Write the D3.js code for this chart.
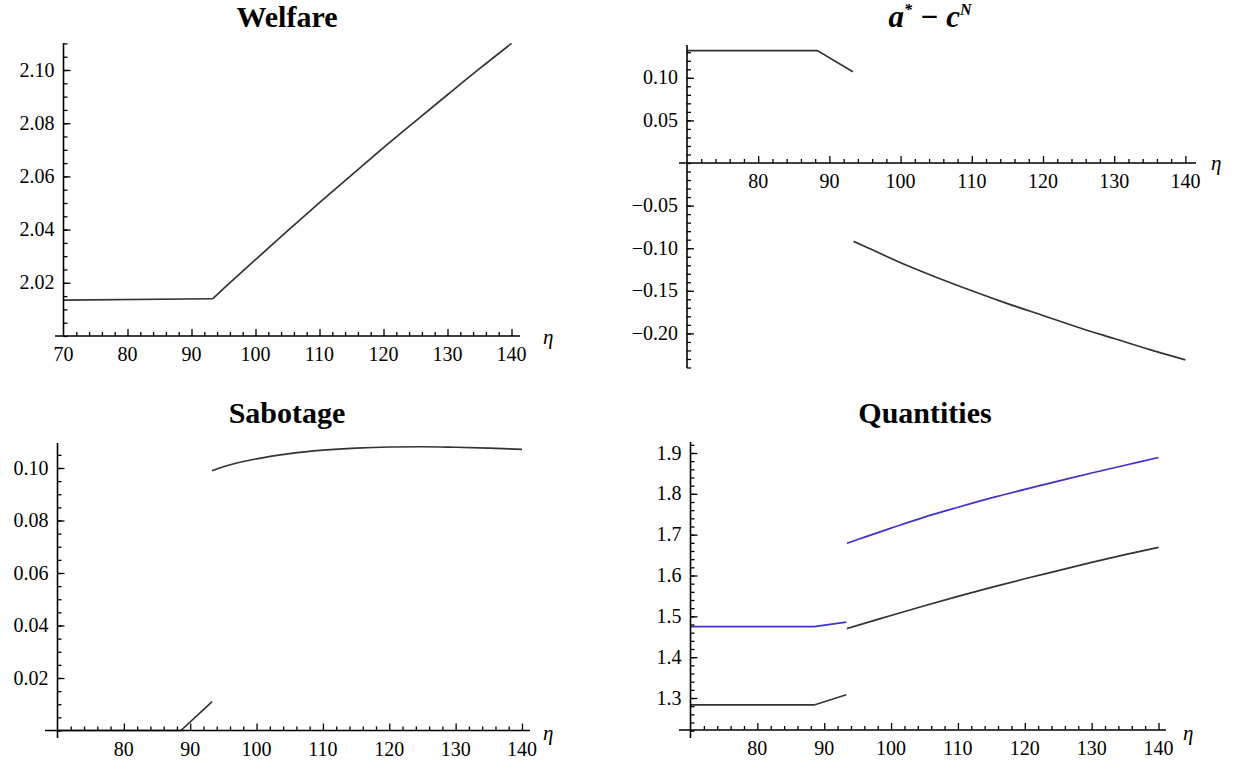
<!DOCTYPE html>
<html>
<head>
<meta charset="utf-8">
<script src="https://cdn.jsdelivr.net/npm/d3@7"></script>
<style>
  body { margin: 0; background: #fff; }
  text { font-family: "Liberation Serif", "Times New Roman", serif; }
</style>
</head>
<body>
<div id="chart"></div>
<script>
const width = 1233;
const height = 765;

// Welfare
const welfareEtaFlat = [70, 93.3];
const welfareFlat = [2.0135, 2.014];
const welfareEta = [93.3, 95, 100, 105, 110, 115, 120, 125, 130, 135, 140];
const welfareVal = [2.014, 2.0178, 2.0287, 2.0395, 2.0501, 2.0605, 2.0708, 2.0808, 2.0907, 2.1005, 2.110];

// a* - c^N
const gapEtaLow = [70, 88.3, 93.3];
const gapLow = [0.132, 0.132, 0.107];
const gapEtaHigh = [93.4, 95, 100, 105, 110, 115, 120, 125, 130, 135, 140];
const gapHigh = [-0.092, -0.098, -0.117, -0.134, -0.150, -0.165, -0.179, -0.193, -0.206, -0.219, -0.231];

// Sabotage
const sabEtaLow = [70, 88.6, 93.3];
const sabLow = [0, 0, 0.011];
const sabEtaHigh = [93.3, 95, 100, 105, 110, 115, 120, 125, 130, 135, 140];
const sabHigh = [0.099, 0.1005, 0.1035, 0.1055, 0.1068, 0.1076, 0.108, 0.1081, 0.1079, 0.1076, 0.1071];

// Quantities
const qEtaLow = [70, 88.5, 93.3];
const qBlueLow = [1.475, 1.475, 1.486];
const qBlackLow = [1.283, 1.283, 1.308];
const qEtaHigh = [93.4, 95, 100, 105, 110, 115, 120, 125, 130, 135, 140];
const qBlueHigh = [1.679, 1.688, 1.716, 1.743, 1.767, 1.79, 1.811, 1.831, 1.851, 1.87, 1.889];
const qBlackHigh = [1.47, 1.478, 1.502, 1.526, 1.549, 1.571, 1.592, 1.612, 1.632, 1.651, 1.669];

// tick values
const etaTicks = [70, 80, 90, 100, 110, 120, 130, 140];
const welfareTicks = [2.02, 2.04, 2.06, 2.08, 2.10];
const gapTicks = [-0.20, -0.15, -0.10, -0.05, 0.05, 0.10];
const sabTicks = [0.02, 0.04, 0.06, 0.08, 0.10];
const qTicks = [1.3, 1.4, 1.5, 1.6, 1.7, 1.8, 1.9];

const dark = "#333";
const blue = "#3f33c9";

const svg = d3.select("#chart").append("svg")
    .attr("width", width)
    .attr("height", height)
    .style("background", "#fff");

const zip = (xs, ys) => xs.map((x, i) => [x, ys[i]]);

const panels = [
    {
        x: d3.scaleLinear([70, 140], [63.5, 511.5]),
        y: d3.scaleLinear([2.0, 2.10], [336, 70]),
        axisY: 336, xAxisExt: [55, 520], yAxisExt: [336, 43],
        xLabels: etaTicks, yLabels: welfareTicks, fmt: d3.format(".2f"),
        yMinor: d3.range(2.0, 2.1105, 0.005),
        title: "Welfare", titlePos: [287, 27], etaPos: [543, 344],
        series: [
            { d: zip(welfareEtaFlat, welfareFlat), c: dark },
            { d: zip(welfareEta, welfareVal), c: dark, smooth: true }
        ]
    },
    {
        x: d3.scaleLinear([70, 140], [687, 1185.4]),
        y: d3.scaleLinear([0, 0.10], [163, 77.8]),
        axisY: 163, xAxisExt: [679, 1196], yAxisExt: [368, 45],
        xLabels: etaTicks.slice(1), yLabels: gapTicks, fmt: d => d3.format(".2f")(d).replace("-", "\u2212"),
        yMinor: d3.range(-0.24, 0.1385, 0.01),
        title: null, titlePos: [930, 27], etaPos: [1211, 170],
        series: [
            { d: zip(gapEtaLow, gapLow), c: dark },
            { d: zip(gapEtaHigh, gapHigh), c: dark, smooth: true }
        ]
    },
    {
        x: d3.scaleLinear([70, 140], [57.5, 522]),
        y: d3.scaleLinear([0, 0.10], [730.5, 468]),
        axisY: 730.5, xAxisExt: [45, 530], yAxisExt: [738, 443],
        xLabels: etaTicks.slice(1), yLabels: sabTicks, fmt: d3.format(".2f"),
        yMinor: d3.range(0, 0.1095, 0.005),
        title: "Sabotage", titlePos: [287, 423], etaPos: [543, 740],
        series: [
            { d: zip(sabEtaLow, sabLow), c: dark },
            { d: zip(sabEtaHigh, sabHigh), c: dark, smooth: true }
        ]
    },
    {
        x: d3.scaleLinear([70, 140], [690.5, 1158.5]),
        y: d3.scaleLinear([1.3, 1.9], [698, 453]),
        axisY: 730, xAxisExt: [679, 1166], yAxisExt: [738, 442],
        xLabels: etaTicks.slice(1), yLabels: qTicks, fmt: d3.format(".1f"),
        yMinor: d3.range(1.22, 1.925, 0.02),
        title: "Quantities", titlePos: [925, 423], etaPos: [1183, 740],
        series: [
            { d: zip(qEtaLow, qBlueLow), c: blue },
            { d: zip(qEtaHigh, qBlueHigh), c: blue, smooth: true },
            { d: zip(qEtaLow, qBlackLow), c: dark },
            { d: zip(qEtaHigh, qBlackHigh), c: dark, smooth: true }
        ]
    }
];

panels.forEach(p => {
    const g = svg.append("g");
    const x0 = p.x(70);

    // series
    p.series.forEach(s => {
        const line = d3.line()
            .x(d => p.x(d[0]))
            .y(d => p.y(d[1]))
            .curve(s.smooth ? d3.curveMonotoneX : d3.curveLinear);
        g.append("path").attr("d", line(s.d))
            .attr("fill", "none").attr("stroke", s.c).attr("stroke-width", 1.7);
    });

    // axis lines
    g.append("line").attr("x1", p.xAxisExt[0]).attr("x2", p.xAxisExt[1])
        .attr("y1", p.axisY).attr("y2", p.axisY).attr("stroke", "#000").attr("stroke-width", 1.6);
    g.append("line").attr("x1", x0).attr("x2", x0)
        .attr("y1", p.yAxisExt[0]).attr("y2", p.yAxisExt[1]).attr("stroke", "#000").attr("stroke-width", 1.6);

    // x ticks (pointing up)
    const xMinor = d3.range(70, 140.5, 2).filter(v => v % 10 !== 0);
    const xg = g.append("g").attr("transform", `translate(0,${p.axisY})`);
    xg.call(d3.axisBottom(p.x).tickValues(xMinor).tickSize(-4).tickFormat(""));
    xg.call(g2 => g2.select(".domain").remove());
    const xg2 = g.append("g").attr("transform", `translate(0,${p.axisY})`);
    xg2.call(d3.axisBottom(p.x).tickValues(etaTicks.slice(1)).tickSize(-7).tickFormat(""));
    xg2.call(g2 => g2.select(".domain").remove());
    g.append("g").selectAll("text").data(p.xLabels).join("text")
        .attr("x", d => p.x(d)).attr("y", p.axisY + 25)
        .attr("text-anchor", "middle").attr("font-size", 20).text(d => d);

    // y ticks (pointing right)
    const yg = g.append("g").attr("transform", `translate(${x0},0)`);
    yg.call(d3.axisLeft(p.y).tickValues(p.yMinor).tickSize(-4).tickFormat(""));
    yg.call(g2 => g2.select(".domain").remove());
    const yg2 = g.append("g").attr("transform", `translate(${x0},0)`);
    yg2.call(d3.axisLeft(p.y).tickValues(p.yLabels).tickSize(-7).tickFormat(""));
    yg2.call(g2 => g2.select(".domain").remove());
    g.append("g").selectAll("text").data(p.yLabels).join("text")
        .attr("x", x0 - 9).attr("y", d => p.y(d) + 6.5)
        .attr("text-anchor", "end").attr("font-size", 20).text(d => p.fmt(d));

    g.selectAll(".tick line").attr("stroke", "#000").attr("stroke-width", 1.3);

    // eta label
    g.append("text").attr("x", p.etaPos[0]).attr("y", p.etaPos[1])
        .attr("font-size", 21).attr("font-style", "italic").text("\u03b7");

    // title
    if (p.title) {
        g.append("text").attr("x", p.titlePos[0]).attr("y", p.titlePos[1])
            .attr("text-anchor", "middle").attr("font-size", 30).attr("font-weight", "bold")
            .text(p.title);
    } else {
        const t = g.append("text").attr("x", p.titlePos[0]).attr("y", p.titlePos[1])
            .attr("text-anchor", "middle").attr("font-size", 31).attr("font-weight", "bold")
            .attr("font-style", "italic");
        t.append("tspan").text("a");
        t.append("tspan").attr("font-size", 16).attr("dy", -12).text("*");
        t.append("tspan").attr("dy", 12).text(" \u2212 c");
        t.append("tspan").attr("font-size", 16).attr("dy", -12).text("N");
    }
});
</script>
</body>
</html>
